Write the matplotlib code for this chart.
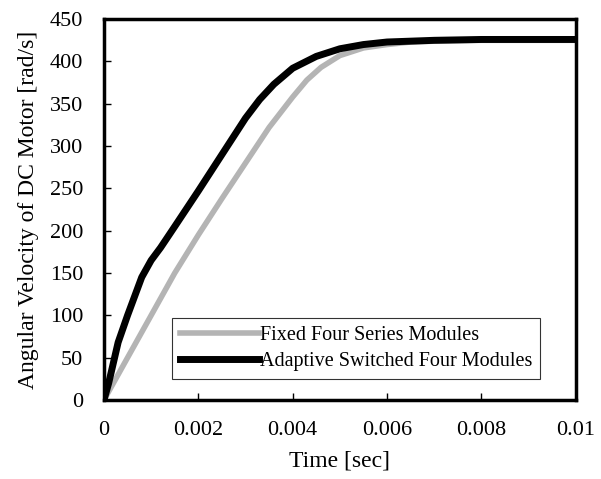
import numpy as np
import matplotlib
matplotlib.use('Agg')
import matplotlib.pyplot as plt

plt.rcParams['font.family'] = ['Liberation Serif', 'DejaVu Serif']

# 固定四串联模块
t_fixed = [0, 0.0005, 0.001, 0.0015, 0.002, 0.0025, 0.003, 0.0035, 0.004,
           0.0043, 0.0046, 0.005, 0.0055, 0.006, 0.0065, 0.007, 0.008, 0.01]
w_fixed = [0, 50, 100, 150, 195, 238, 280, 322, 358, 378, 393, 407, 416, 420,
           423, 424, 425, 425]

# 自适应切换四模块
t_adapt = [0, 0.0001, 0.0003, 0.0005, 0.0008, 0.001, 0.0012, 0.0015, 0.002,
           0.0025, 0.003, 0.0033, 0.0036, 0.004, 0.0045, 0.005, 0.0055, 0.006,
           0.007, 0.008, 0.01]
w_adapt = [0, 20, 68, 100, 145, 165, 180, 205, 247, 290, 333, 355, 373, 392,
           406, 415, 420, 423, 425, 426, 426]

xticks = [0, 0.002, 0.004, 0.006, 0.008, 0.01]
xticklabels = ['0', '0.002', '0.004', '0.006', '0.008', '0.01']
yticks = list(range(0, 451, 50))

fig = plt.figure(figsize=(6.01, 4.79), dpi=100)
ax = fig.add_axes([0.173, 0.165, 0.785, 0.795])

ax.plot(t_fixed, w_fixed, color='#b4b4b4', lw=4, label='Fixed Four Series Modules')
ax.plot(t_adapt, w_adapt, color='black', lw=5, label='Adaptive Switched Four Modules')

ax.set_xlim(0, 0.01)
ax.set_ylim(0, 450)
ax.set_xticks(xticks)
ax.set_xticklabels(xticklabels)
ax.set_yticks(yticks)
ax.tick_params(direction='in', length=5, width=1, labelsize=16, pad=15,
               top=False, right=False)
for s in ax.spines.values():
    s.set_linewidth(2.5)

ax.set_xlabel('Time [sec]', fontsize=17, labelpad=8)
ax.set_ylabel('Angular Velocity of DC Motor [rad/s]', fontsize=17, labelpad=8)

leg = ax.legend(loc='lower right', bbox_to_anchor=(0.925, 0.055), fontsize=14.5,
                frameon=True, fancybox=False, edgecolor='black', handlelength=3.9,
                handletextpad=0.05, borderpad=0.4, labelspacing=0.35, borderaxespad=0)
leg.get_frame().set_linewidth(0.8)

fig.savefig('out.png', dpi=100)
